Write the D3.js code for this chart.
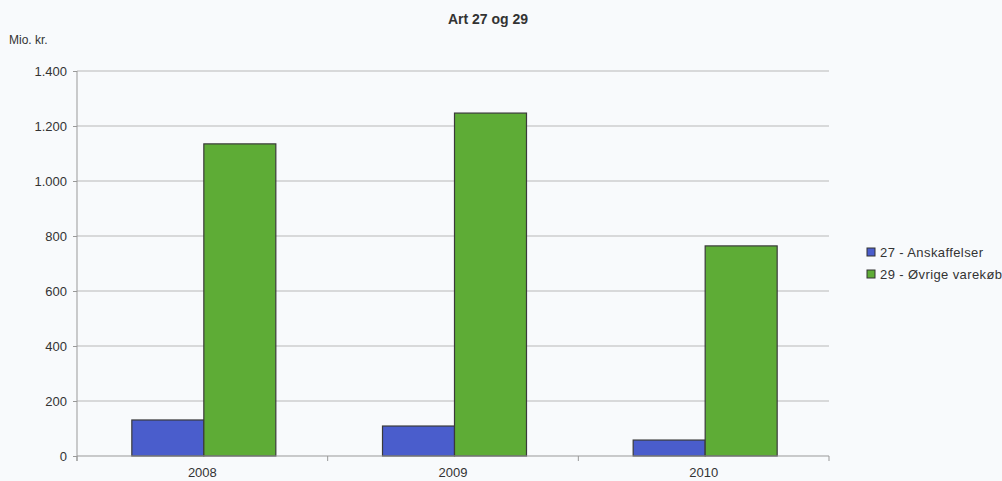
<!DOCTYPE html>
<html>
<head>
<meta charset="utf-8">
<script src="https://cdn.jsdelivr.net/npm/d3@7"></script>
<style>
  body { margin: 0; background: #f8fafc; }
  svg { display: block; }
  text { font-family: "Liberation Sans", Arial, sans-serif; fill: #333; }
</style>
</head>
<body>
<svg width="1002" height="481"></svg>
<script>
const years = ["2008", "2009", "2010"];
const seriesNames = ["27 - Anskaffelser", "29 - Øvrige varekøb"];
const anskaffelser = [131, 109, 58];
const oevrige = [1135, 1247, 764];
const yTicks = [0, 200, 400, 600, 800, 1000, 1200, 1400];
const colors = ["#4a5dcc", "#5eac36"];

const svg = d3.select("svg");
const plotLeft = 77, plotRight = 829, plotTop = 71, plotBottom = 456;

const x = d3.scaleBand().domain(years).range([plotLeft, plotRight]).padding(0);
const y = d3.scaleLinear().domain([0, 1400]).range([plotBottom, plotTop]);

// grid lines
svg.append("g")
  .selectAll("line")
  .data(yTicks.slice(1))
  .join("line")
  .attr("x1", plotLeft).attr("x2", plotRight)
  .attr("y1", d => y(d)).attr("y2", d => y(d))
  .attr("stroke", "#b8b8b8").attr("stroke-width", 1);

// y axis
const fmt = d => d3.format(",")(d).replace(/,/g, ".");
const yAxis = svg.append("g")
  .attr("transform", `translate(${plotLeft},0)`)
  .call(d3.axisLeft(y).tickValues(yTicks).tickFormat(fmt).tickSize(4).tickPadding(6));
yAxis.select(".domain").attr("stroke", "#999").attr("d", `M0,${plotTop}V${plotBottom + 5}`);
yAxis.selectAll(".tick line").attr("stroke", "#999");
yAxis.selectAll("text").style("font-size", "13px").attr("fill", "#333");

// bars
const barW = 72;
const series = [anskaffelser, oevrige];
series.forEach((vals, s) => {
  svg.append("g")
    .selectAll("rect")
    .data(vals)
    .join("rect")
    .attr("x", (d, i) => x(years[i]) + x.bandwidth() / 2 - barW + s * barW + 1.5)
    .attr("y", d => y(d))
    .attr("width", barW)
    .attr("height", d => plotBottom - y(d))
    .attr("fill", colors[s])
    .attr("stroke", "#3a3a3a")
    .attr("stroke-width", 1.2);
});

// x axis
const xAxis = svg.append("g")
  .attr("transform", `translate(0,${plotBottom})`)
  .call(d3.axisBottom(x).tickSize(0).tickPadding(12));
xAxis.select(".domain").attr("stroke", "#999").attr("d", `M${plotLeft},0H${plotRight}`);
xAxis.selectAll("text").style("font-size", "13px").attr("fill", "#333");
svg.append("g")
  .selectAll("line")
  .data(d3.range(years.length + 1))
  .join("line")
  .attr("x1", i => plotLeft + i * x.step()).attr("x2", i => plotLeft + i * x.step())
  .attr("y1", plotBottom).attr("y2", plotBottom + 5)
  .attr("stroke", "#999");

// title and unit
svg.append("text")
  .attr("x", 488).attr("y", 24)
  .attr("text-anchor", "middle")
  .style("font-size", "14px").style("font-weight", "bold")
  .text("Art 27 og 29");
svg.append("text")
  .attr("x", 9).attr("y", 44)
  .style("font-size", "12px")
  .text("Mio. kr.");

// legend
const legend = svg.append("g").attr("transform", "translate(867,252)");
seriesNames.forEach((name, i) => {
  const g = legend.append("g").attr("transform", `translate(0,${i * 22})`);
  g.append("rect").attr("x", 0).attr("y", -4).attr("width", 8).attr("height", 8)
    .attr("fill", colors[i]).attr("stroke", "#333").attr("stroke-width", 1);
  g.append("text").attr("x", 13).attr("y", 4.5)
    .style("font-size", "13px").style("letter-spacing", "0.4px")
    .text(name);
});
</script>
</body>
</html>
